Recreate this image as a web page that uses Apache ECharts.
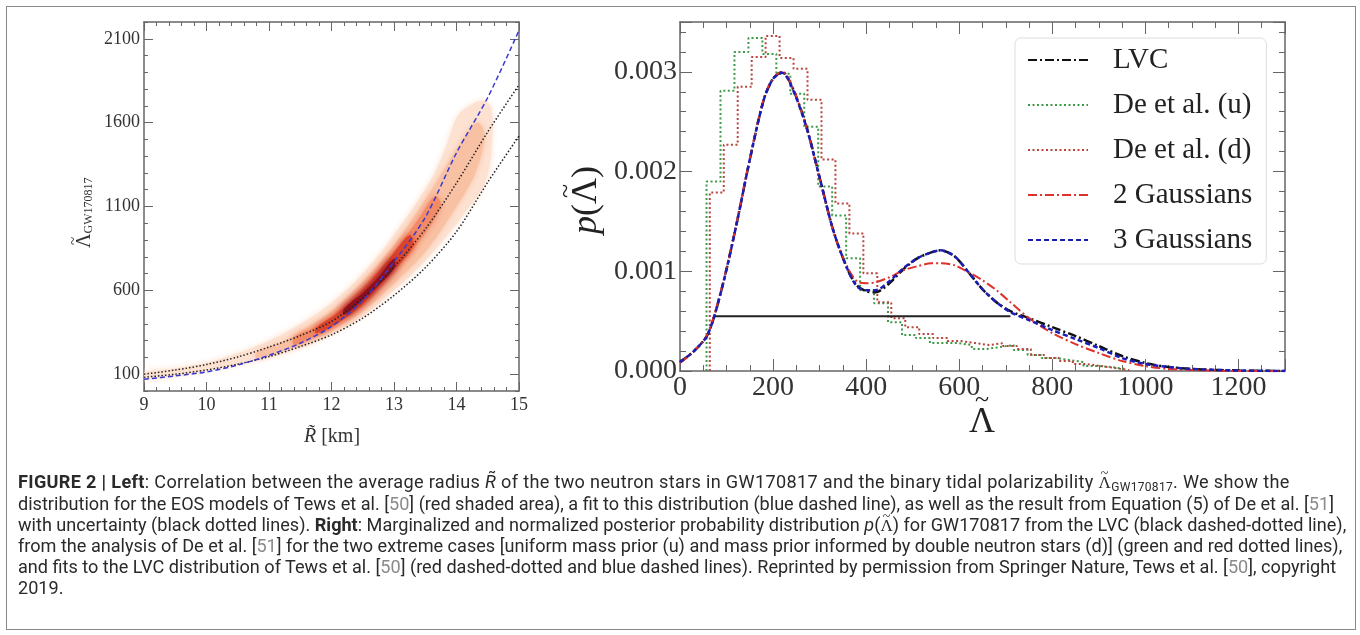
<!DOCTYPE html>
<html>
<head>
<meta charset="utf-8">
<script src="https://cdn.jsdelivr.net/npm/echarts@6/dist/echarts.min.js"></script>
<style>
  html, body { margin: 0; padding: 0; background: #fff; }
  #wrap { position: relative; width: 1360px; height: 635px; overflow: hidden; }
  #frame { position: absolute; left: 6px; top: 6px; width: 1348px; height: 622px; border: 1.5px solid #888; }
  #chart { position: absolute; left: 0; top: 0; width: 1360px; height: 470px; }
  #caption { position: absolute; left: 18px; top: 472px; font-family: Roboto, "Liberation Sans", sans-serif;
             font-size: 18.1px; line-height: 20.8px; color: #2a2a2a; white-space: nowrap; }
  #caption b { font-weight: 700; }
  #caption sub { font-size: 12px; line-height: 0; vertical-align: -3px; }
  #caption .wide { letter-spacing: 0.33px; }
  .ref { color: #8a8a8a; }
  .acc { position: relative; display: inline-block; font-family: "Liberation Serif", serif; font-size: 17px; }
  .acc .t { position: absolute; left: 0; right: 0; top: -0.62em; text-align: center; font-size: 14px; }
</style>
</head>
<body>
<div id="wrap">
  <div id="frame"></div>
  <div id="chart"></div>
  <div id="caption">
    <div class="wide"><b>FIGURE 2 | Left</b>: Correlation between the average radius <i>R̃</i> of the two neutron stars in GW170817 and the binary tidal polarizability <span class="acc">Λ<span class="t">~</span></span><sub>GW170817</sub>. We show the</div>
    <div>distribution for the EOS models of Tews et al. [<span class="ref">50</span>] (red shaded area), a fit to this distribution (blue dashed line), as well as the result from Equation (5) of De et al. [<span class="ref">51</span>]</div>
    <div>with uncertainty (black dotted lines). <b>Right</b>: Marginalized and normalized posterior probability distribution <i>p</i>(<span class="acc">Λ<span class="t">~</span></span>) for GW170817 from the LVC (black dashed-dotted line),</div>
    <div>from the analysis of De et al. [<span class="ref">51</span>] for the two extreme cases [uniform mass prior (u) and mass prior informed by double neutron stars (d)] (green and red dotted lines),</div>
    <div>and fits to the LVC distribution of Tews et al. [<span class="ref">50</span>] (red dashed-dotted and blue dashed lines). Reprinted by permission from Springer Nature, Tews et al. [<span class="ref">50</span>], copyright</div>
    <div>2019.</div>
  </div>
</div>
<script>
// 左图：平均半径 R 与 Λ
const radiusGrid = [9.0, 9.5, 10.0, 10.5, 11.0, 11.5, 12.0, 12.5, 13.0, 13.5, 14.0, 14.5, 15.0];
const fitBlue    = [70, 90, 114, 155, 213, 285, 385, 540, 770, 1035, 1420, 1750, 2150];
const deUpper    = [100, 125, 158, 203, 262, 330, 415, 555, 740, 965, 1240, 1545, 1825];
const deLower    = [82, 100, 125, 160, 205, 265, 335, 435, 570, 735, 950, 1245, 1520];
const leftTicks  = [100, 600, 1100, 1600, 2100];

// EOS 分布阴影的轮廓（由外到内）
const shadeOuter = [[9.0, 110], [9.5, 135], [10.0, 168], [10.5, 225], [11.0, 300], [11.5, 400], [12.0, 525],
  [12.5, 700], [13.0, 930], [13.57, 1246], [13.82, 1445], [14.02, 1641], [14.25, 1710], [14.43, 1730],
  [14.55, 1690], [14.57, 1500], [14.46, 1246], [14.1, 1046], [13.7, 860], [13.3, 700], [13.0, 600],
  [12.5, 445], [12.0, 340], [11.5, 265], [11.0, 205], [10.5, 158], [10.0, 122], [9.5, 92], [9.0, 72]];
const shadeMid = [[10.8, 230], [11.2, 290], [11.6, 375], [12.0, 475], [12.5, 650], [13.0, 870], [13.5, 1140],
  [13.9, 1380], [14.2, 1550], [14.35, 1600], [14.45, 1520], [14.3, 1300], [14.0, 1100], [13.5, 830],
  [13.0, 640], [12.5, 475], [12.0, 360], [11.6, 290], [11.2, 235], [10.8, 195]];
const shadeInner = [[11.4, 320], [11.7, 375], [12.0, 445], [12.5, 620], [13.0, 830], [13.4, 1030], [13.65, 1160],
  [13.75, 1110], [13.5, 940], [13.0, 710], [12.5, 505], [12.0, 380], [11.7, 320], [11.4, 275]];
const shadeRed = [[11.75, 375], [12.1, 465], [12.5, 600], [12.9, 775], [13.25, 930],
  [13.3, 860], [12.9, 685], [12.5, 520], [12.1, 405], [11.75, 345]];
const shadeCore = [[12.2, 490], [12.5, 585], [12.75, 680], [13.0, 790],
  [13.0, 730], [12.7, 610], [12.45, 525], [12.2, 455]];

// 右图：p(Λ)
const lambdaGrid = [0, 30, 60, 90, 120, 150, 180, 200, 220, 240, 270, 300, 330, 360, 380, 400, 420, 450, 480, 510,
  540, 560, 590, 620, 650, 680, 710, 750, 800, 850, 900, 950, 1000, 1050, 1100, 1200, 1300];
const lvc = [0.00009, 0.0002, 0.00037, 0.00083, 0.00144, 0.00212, 0.00272, 0.00293, 0.003, 0.00286, 0.00248, 0.00194,
  0.0014, 0.00102, 0.00086, 0.0008, 0.00079, 0.00088, 0.00102, 0.00113, 0.00119, 0.00121, 0.00115, 0.00099, 0.00082,
  0.00069, 0.0006, 0.00053, 0.00044, 0.00035, 0.00025, 0.00015, 0.00008, 0.00004, 0.00002, 0.000005, 0];
const gauss2 = [0.00008, 0.0002, 0.00038, 0.00084, 0.00145, 0.00213, 0.00273, 0.00294, 0.003, 0.00287, 0.00247, 0.00193,
  0.00139, 0.00104, 0.0009, 0.00088, 0.00089, 0.00094, 0.00101, 0.00105, 0.00108, 0.00108, 0.00106, 0.00099, 0.00091,
  0.00081, 0.00069, 0.00053, 0.00038, 0.00027, 0.00018, 0.0001, 0.00005, 0.00002, 0.00001, 0, 0];
const gauss3 = [0.00009, 0.0002, 0.00037, 0.00083, 0.00144, 0.00212, 0.00272, 0.00293, 0.00299, 0.00285, 0.00247, 0.00194,
  0.0014, 0.00102, 0.00085, 0.00081, 0.00081, 0.0009, 0.00103, 0.00113, 0.00119, 0.00121, 0.00115, 0.00099, 0.00082,
  0.00069, 0.00059, 0.00051, 0.00041, 0.00032, 0.00023, 0.00013, 0.00007, 0.00004, 0.00002, 0.000005, 0];

const greenEdges = [57, 87, 117, 147, 177, 207, 237, 267, 297, 327, 357, 387, 417, 447, 477, 507, 537, 567, 597, 627,
  657, 687, 717, 747, 777, 807, 837, 867, 897, 927, 957];
const greenHeights = [0.0019, 0.00281, 0.0032, 0.00334, 0.00318, 0.00298, 0.00278, 0.00245, 0.00185, 0.00156, 0.00113,
  0.00081, 0.00068, 0.00049, 0.00036, 0.00033, 0.00028, 0.00028, 0.00026, 0.00022, 0.00024, 0.00026, 0.00021, 0.00016,
  0.00013, 0.00011, 0.00009, 0.00005, 0.00004, 0.00002];
const redEdges = [64, 94, 124, 154, 184, 214, 244, 274, 304, 334, 364, 394, 424, 454, 484, 514, 544, 574, 604, 634,
  664, 694, 724, 754, 784, 814, 844, 874, 904, 934, 964];
const redHeights = [0.00179, 0.00227, 0.00285, 0.00315, 0.00336, 0.00314, 0.00303, 0.00272, 0.00212, 0.00168, 0.00138,
  0.00098, 0.00069, 0.00053, 0.00044, 0.00037, 0.00033, 0.0003, 0.00028, 0.00026, 0.00028, 0.00025, 0.00022, 0.00016,
  0.00013, 0.0001, 0.00007, 0.00005, 0.00003, 0.00001];
const credibleRange = [72, 710];
const credibleLevel = 0.00055;

const SERIF = '"Liberation Serif", "DejaVu Serif", serif';
const LEGEND = ['LVC', 'De et al. (u)', 'De et al. (d)', '2 Gaussians', '3 Gaussians'];

function pairs(xs, ys) {
    return xs.map((x, i) => [x, ys[i]]);
}

function histData(edges, heights) {
    const d = [[edges[0], 0]];
    heights.forEach((h, i) => d.push([edges[i], h]));
    d.push([edges[edges.length - 1], 0]);
    return d;
}

// 阴影多边形，用坐标轴换算
function shade(points, color, blur) {
    return {
        type: 'custom', xAxisIndex: 0, yAxisIndex: 0, silent: true, clip: true,
        data: points,
        renderItem: function(params, api) {
            if (params.dataIndex !== 0) return;
            const pts = points.map(p => api.coord(p));
            return {
                type: 'polygon',
                shape: { points: pts, smooth: 0.35 },
                style: { fill: color, shadowBlur: blur, shadowColor: color }
            };
        }
    };
}

// 带波浪号的标签
function tilde(x, y, size) {
    return { type: 'text', x: x, y: y,
             style: { text: '~', align: 'center', verticalAlign: 'middle', fill: '#222', font: size + 'px ' + SERIF } };
}

const axisLine = { show: true, onZero: false, lineStyle: { color: '#666', width: 1.5 } };
const tickLine = { color: '#666', width: 1 };

function xFrame(grid, pos, extra) {
    return Object.assign({
        gridIndex: grid, type: 'value', position: pos,
        axisLine: axisLine, splitLine: { show: false }, minorSplitLine: { show: false }
    }, extra);
}

const chart = echarts.init(document.getElementById('chart'));

const option = {
    animation: false,
    grid: [
        { left: 144, top: 22, width: 375, height: 369 },
        { left: 680, top: 22, width: 605, height: 349 }
    ],
    xAxis: [
        xFrame(0, 'bottom', { min: 9, max: 15, interval: 1,
            axisTick: { inside: true, length: 9, lineStyle: tickLine },
            minorTick: { show: true, splitNumber: 5, length: 4, lineStyle: tickLine },
            axisLabel: { margin: 5, fontFamily: SERIF, fontSize: 18, color: '#333' } }),
        xFrame(0, 'top', { min: 9, max: 15, interval: 1,
            axisTick: { inside: true, length: 9, lineStyle: tickLine },
            minorTick: { show: true, splitNumber: 5, length: 4, lineStyle: tickLine },
            axisLabel: { show: false } }),
        xFrame(1, 'bottom', { min: 0, max: 1300, interval: 200,
            axisTick: { inside: true, length: 12, lineStyle: tickLine },
            minorTick: { show: true, splitNumber: 4, length: 6, lineStyle: tickLine },
            axisLabel: { margin: 3, fontFamily: SERIF, fontSize: 28, color: '#333',
                formatter: v => (v % 200 === 0 ? String(v) : '') } }),
        xFrame(1, 'top', { min: 0, max: 1300, interval: 200,
            axisTick: { inside: true, length: 12, lineStyle: tickLine },
            minorTick: { show: true, splitNumber: 4, length: 6, lineStyle: tickLine },
            axisLabel: { show: false } })
    ],
    yAxis: [
        xFrame(0, 'left', { min: 0, max: 2200,
            axisTick: { inside: true, length: 9, lineStyle: tickLine, customValues: leftTicks },
            axisLabel: { customValues: leftTicks, margin: 4, fontFamily: SERIF, fontSize: 18, color: '#333',
                formatter: v => String(v) } }),
        xFrame(0, 'left', { min: 0, max: 2200, interval: 100, axisLine: { show: false },
            axisTick: { inside: true, length: 4, lineStyle: tickLine }, axisLabel: { show: false } }),
        xFrame(0, 'right', { min: 0, max: 2200,
            axisTick: { inside: true, length: 9, lineStyle: tickLine, customValues: leftTicks },
            axisLabel: { show: false } }),
        xFrame(0, 'right', { min: 0, max: 2200, interval: 100, axisLine: { show: false },
            axisTick: { inside: true, length: 4, lineStyle: tickLine }, axisLabel: { show: false } }),
        xFrame(1, 'left', { min: 0, max: 0.0035, interval: 0.001,
            axisTick: { inside: true, length: 12, lineStyle: tickLine },
            minorTick: { show: true, splitNumber: 5, length: 6, lineStyle: tickLine },
            axisLabel: { margin: 3, fontFamily: SERIF, fontSize: 28, color: '#333',
                formatter: v => (Math.abs(v * 1000 - Math.round(v * 1000)) < 1e-6 ? v.toFixed(3) : '') } }),
        xFrame(1, 'right', { min: 0, max: 0.0035, interval: 0.001,
            axisTick: { inside: true, length: 12, lineStyle: tickLine },
            minorTick: { show: true, splitNumber: 5, length: 6, lineStyle: tickLine },
            axisLabel: { show: false } })
    ],
    legend: {
        data: LEGEND, orient: 'vertical', left: 1015, top: 38,
        padding: [6, 14, 8, 12], itemWidth: 60, itemHeight: 14, itemGap: 13,
        backgroundColor: '#fff', borderColor: '#ddd', borderWidth: 1, borderRadius: 6,
        selectedMode: false,
        itemStyle: { opacity: 0 },
        textStyle: { fontFamily: SERIF, fontSize: 29, color: '#222', lineHeight: 32, padding: [0, 0, 0, 20] }
    },
    graphic: [
        { type: 'group', x: 85, y: 213, rotation: Math.PI / 2, children: [
            { type: 'text', x: -35, y: 0,
              style: { text: '{m|Λ}{s|GW170817}', align: 'left', verticalAlign: 'middle', fill: '#333',
                       rich: { m: { fontFamily: SERIF, fontSize: 20 }, s: { fontFamily: SERIF, fontSize: 12, padding: [8, 0, 0, 0] } } } },
            tilde(-28, -11, 15)
        ] },
        { type: 'text', x: 332, y: 437,
          style: { text: '{i|R̃} [km]', align: 'center', verticalAlign: 'middle', fill: '#333',
                   font: '20px ' + SERIF, rich: { i: { fontFamily: SERIF, fontSize: 20, fontStyle: 'italic' } } } },
        { type: 'group', x: 587, y: 200, rotation: Math.PI / 2, children: [
            { type: 'text', x: 0, y: 0,
              style: { text: '{i|p}(Λ)', align: 'center', verticalAlign: 'middle', fill: '#222',
                       font: '36px ' + SERIF, rich: { i: { fontFamily: SERIF, fontSize: 36, fontStyle: 'italic' } } } },
            tilde(9, -21, 26)
        ] },
        { type: 'text', x: 982, y: 423,
          style: { text: 'Λ', align: 'center', verticalAlign: 'middle', fill: '#222', font: '36px ' + SERIF } },
        tilde(982, 400, 26)
    ],
    series: [
        shade(shadeOuter, '#fde2d2', 6),
        shade(shadeMid, '#f9c1a3', 6),
        shade(shadeInner, '#f28a66', 6),
        shade(shadeRed, '#da442d', 6),
        shade(shadeCore, '#8e1020', 8),
        { name: 'De upper', type: 'line', xAxisIndex: 0, yAxisIndex: 0, data: pairs(radiusGrid, deUpper),
          smooth: 0.3, symbol: 'none', lineStyle: { color: '#222', width: 1.5, type: [1.5, 2] } },
        { name: 'De lower', type: 'line', xAxisIndex: 0, yAxisIndex: 0, data: pairs(radiusGrid, deLower),
          smooth: 0.3, symbol: 'none', lineStyle: { color: '#222', width: 1.5, type: [1.5, 2] } },
        { name: 'fit', type: 'line', xAxisIndex: 0, yAxisIndex: 0, data: pairs(radiusGrid, fitBlue),
          smooth: 0.3, symbol: 'none', lineStyle: { color: '#3a3ad0', width: 1.5, type: [5, 3] } },

        { name: 'De et al. (u)', type: 'line', xAxisIndex: 2, yAxisIndex: 4, data: histData(greenEdges, greenHeights),
          step: 'end', symbol: 'none', lineStyle: { color: '#3d9a46', width: 2, type: [2, 2.5] } },
        { name: 'De et al. (d)', type: 'line', xAxisIndex: 2, yAxisIndex: 4, data: histData(redEdges, redHeights),
          step: 'end', symbol: 'none', lineStyle: { color: '#b8453d', width: 2, type: [2, 2.5] } },
        { name: 'credible', type: 'line', xAxisIndex: 2, yAxisIndex: 4,
          data: credibleRange.map(x => [x, credibleLevel]),
          symbol: 'none', lineStyle: { color: '#222', width: 2 } },
        { name: 'LVC', type: 'line', xAxisIndex: 2, yAxisIndex: 4, data: pairs(lambdaGrid, lvc),
          smooth: 0.3, symbol: 'none', lineStyle: { color: '#111', width: 2.5, type: [9, 3, 2, 3] } },
        { name: '2 Gaussians', type: 'line', xAxisIndex: 2, yAxisIndex: 4, data: pairs(lambdaGrid, gauss2),
          smooth: 0.3, symbol: 'none', lineStyle: { color: '#e0302a', width: 2, type: [9, 3, 2, 3] } },
        { name: '3 Gaussians', type: 'line', xAxisIndex: 2, yAxisIndex: 4, data: pairs(lambdaGrid, gauss3),
          smooth: 0.3, symbol: 'none', lineStyle: { color: '#1c1cb8', width: 2.5, type: [5, 3] } }
    ]
};

chart.setOption(option);
</script>
</body>
</html>
